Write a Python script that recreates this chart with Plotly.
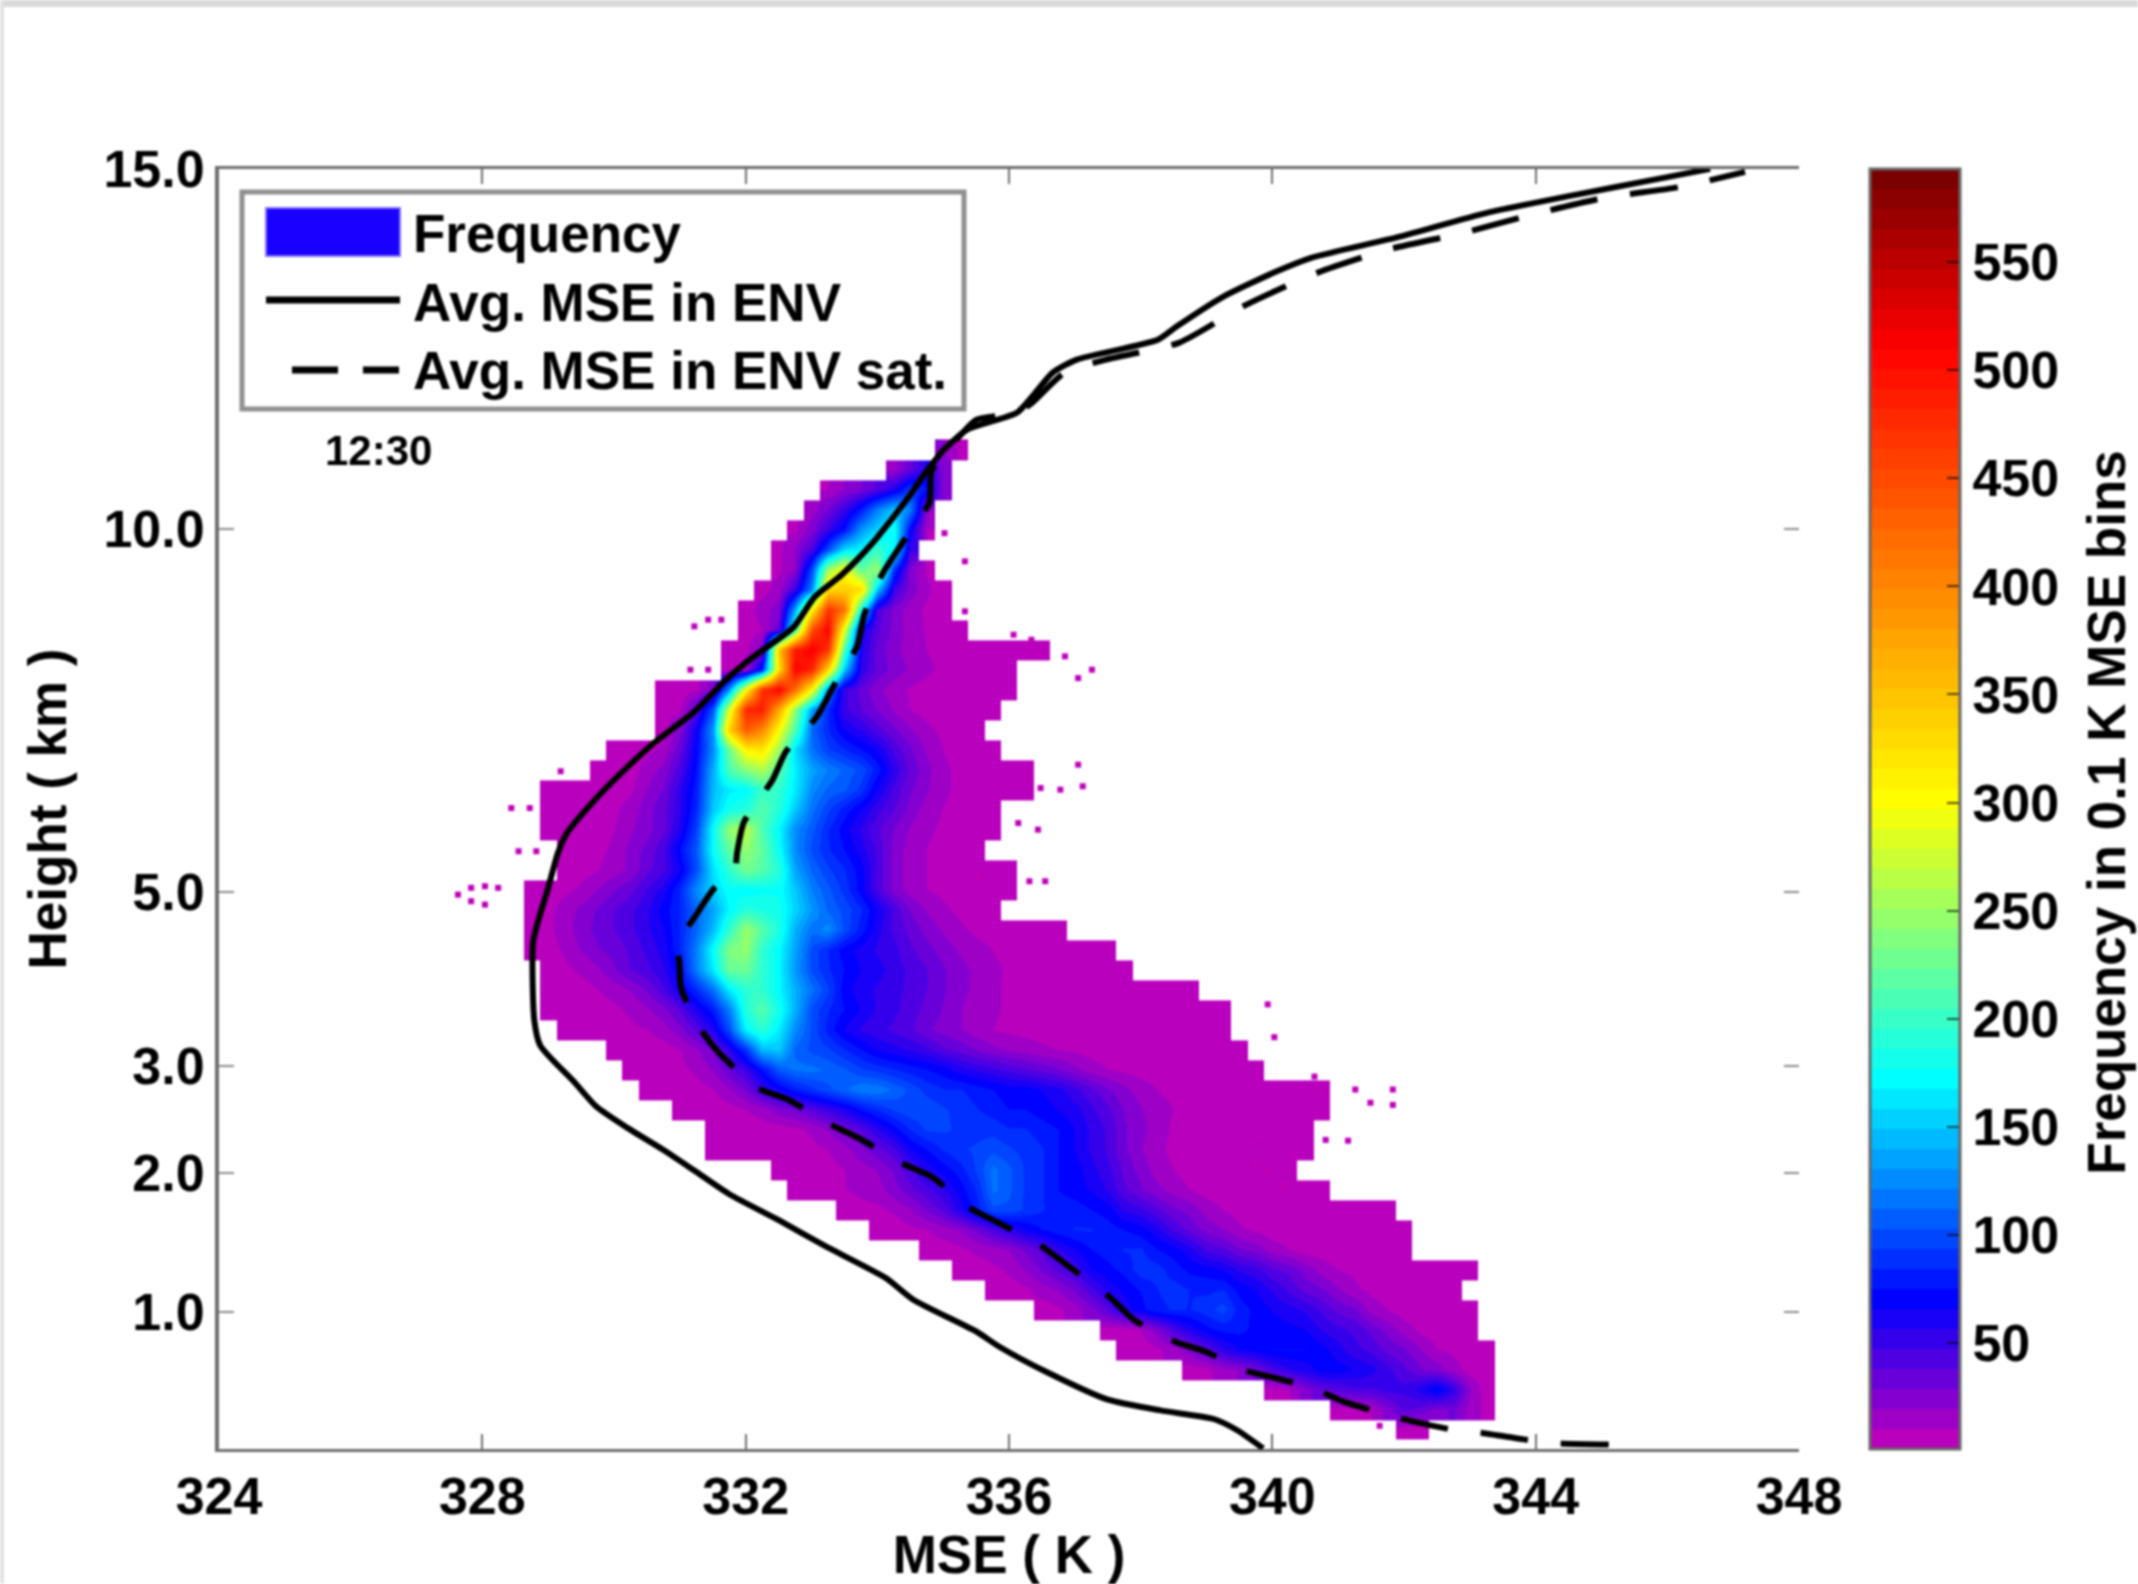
import plotly.graph_objects as go

# ---------- data ----------
X_TICKS = [324, 328, 332, 336, 340, 344, 348]
HEIGHT_LABELS = ["1.0", "2.0", "3.0", "5.0", "10.0", "15.0"]
HEIGHT_LEVELS = [6.875, 13.825, 19.175, 27.875, 46.025, 64.025]   # the height axis is stretched: model level of each label
LEVEL_MAX = 64.025
CB_TICKS = [50, 100, 150, 200, 250, 300, 350, 400, 450, 500, 550]
Z_MIN, Z_MAX = 1, 593

MSE_ENV = [339.86,339.46,339.11,338.30,337.49,336.54,335.86,335.50,334.54,334.13,333.19,332.51,331.76,331.22,330.74,330.21,329.73,329.39,328.88,328.79,328.77,328.88,328.98,329.15,329.29,329.67,330.21,330.61,331.22,331.70,332.10,332.72,333.05,333.46,333.93,334.48,334.71,335.01,335.36,336.12,336.35,336.66,337.02,338.26,338.54,339.25,340.05,340.59,341.92,343.26,344.60,345.94,346.65]
LEV_ENV = [0.03,0.95,1.50,1.93,2.48,3.90,5.10,5.88,7.48,8.55,10.18,11.43,12.73,13.93,14.98,16.05,17.13,18.38,20.18,21.43,25.33,26.78,27.83,29.83,30.83,32.33,34.13,35.33,36.88,38.48,39.58,41.08,42.63,43.73,45.33,47.63,48.73,49.98,50.98,51.83,52.63,53.83,54.48,55.48,56.13,57.63,58.88,59.58,60.63,61.83,62.73,63.58,64.03]

MSE_SAT = [345.11,344.26,343.82,343.19,342.76,342.13,341.73,341.07,340.63,340.01,339.61,338.98,338.55,337.91,337.52,336.86,336.46,335.83,335.42,334.82,334.38,333.73,333.29,332.64,332.20,331.60,331.32,331.02,330.99,330.95,331.22,331.53,331.83,331.87,331.97,332.41,332.61,333.08,333.33,333.69,333.80,334.07,334.38,334.79,334.82,335.02,335.24,335.50,336.12,336.35,336.84,337.46,338.58,339.60,340.68,341.74,342.90,343.93,345.04,346.20,347.18]
LEV_SAT = [0.23,0.30,0.48,0.80,0.95,1.38,1.73,2.38,3.03,3.58,3.90,4.88,5.33,6.43,7.63,9.25,10.23,11.33,12.03,13.63,14.28,15.53,16.23,17.48,18.03,19.80,20.98,23.03,24.43,25.18,26.58,28.08,28.88,29.83,31.33,33.48,34.88,36.63,38.13,40.13,41.73,43.73,45.33,47.33,48.88,49.83,50.63,51.48,51.83,52.33,53.83,54.48,55.33,57.23,58.83,59.98,60.83,61.73,62.58,63.13,63.88]

SPECK_MSE = [327.63,327.83,328.04,328.24,327.83,328.04,328.44,328.72,328.95,328.55,328.82,329.19,331.16,331.43,331.22,331.43,331.63,337.26,337.05,336.85,336.31,336.48,337.12,336.78,336.55,336.31,335.53,336.44,336.14,335.33,335.02,335.33,334.85,336.07,336.34,337.05,341.83,341.83,341.49,341.26,341.15,339.93,340.03,340.64,340.75,340.81,340.34,339.73,339.93,339.63,339.83,340.2,340.14,343.32,341.63]
SPECK_LEV = [27.73,28.07,28.15,28.07,27.4,27.23,32.06,32.06,31.73,29.9,29.9,33.9,38.98,38.98,41.15,41.48,41.48,38.98,38.56,39.65,39.98,33.06,33.15,32.98,28.4,28.4,28.73,30.98,31.31,44.4,45.81,41.9,40.81,40.73,40.48,34.23,17.98,17.21,17.32,17.98,15.42,22.24,20.6,18.63,17.87,15.46,14.59,14.27,13.94,15.36,15.68,13.28,12.96,4.88,1.16]

BIN_MSE = [324 + 0.25 * j for j in range(97)]
# first occupied bin of each level (level 1 upward) and the frequencies from there on
ROW_START = [72,68,64,59,55,54,50,47,45,43,40,38,35,34,30,30,28,26,25,24,21,20,20,20,19,19,19,19,21,21,20,20,20,23,24,27,27,27,31,31,32,32,33,34,34,35,36,37,41,44]
ROW_FREQ = [
[5,5],
[5,5,10,25,40,35,25,30,15,8],
[5,10,25,35,40,45,45,50,50,60,75,55,20,5],
[5,8,15,20,30,45,55,60,70,70,65,60,50,40,30,25,15,5,5],
[5,5,8,15,25,40,55,65,70,75,75,75,70,60,50,45,35,30,20,10,8,5,5],
[5,5,10,25,45,60,72,78,78,72,72,68,66,55,50,45,35,25,15,8,5,5,5],
[5,8,15,25,40,60,72,82,85,84,90,98,80,72,65,60,55,45,35,30,15,10,5,5,5,5,5],
[5,5,8,15,20,30,45,60,68,76,84,88,84,82,84,72,65,55,45,35,30,20,12,8,5,5,5,5,5],
[5,5,8,12,20,30,40,50,65,72,78,90,88,80,72,70,65,55,50,40,35,25,15,10,8,5,5,5,5,5,5,5],
[5,5,8,12,15,20,30,40,55,65,75,80,85,85,75,70,60,45,40,30,25,15,10,5,5,5,5,5,5,5],
[5,5,8,10,15,20,30,45,55,65,75,80,85,85,80,75,70,60,45,35,25,20,12,8,5,5,5,5,5,5,5,5,5],
[5,8,8,12,18,30,40,60,80,100,100,92,85,80,80,75,70,55,50,40,30,25,15,10,6,5,5,5,5,5,5,5,5,5],
[5,5,8,10,12,15,25,35,45,55,70,85,115,105,92,85,75,70,65,55,40,30,22,15,10,6,5,5,5,5,5,5,5],
[5,5,6,8,10,15,20,30,45,60,70,80,95,115,105,92,85,75,70,60,50,35,25,15,10,6,5,5,5,5,5,5],
[5,5,5,5,5,6,8,10,15,25,35,45,65,75,85,92,95,100,95,90,85,75,65,55,45,30,20,12,8,5,5,5,5,5,5,5,5],
[5,5,5,5,5,8,12,20,30,40,55,70,85,95,95,92,90,90,85,85,80,75,65,55,45,30,22,15,8,5,5,5,5,5,5,5,5],
[5,5,5,6,10,15,25,30,40,50,60,75,85,95,100,100,95,90,85,80,75,75,70,65,60,50,40,28,20,15,10,6,5,5,5,5,5,5,5,5],
[5,5,5,6,10,18,30,50,65,80,90,100,110,120,120,110,100,90,85,85,80,75,70,70,65,60,50,40,30,22,15,10,7,5,5,5,5,5,5,5,5,5],
[5,5,6,8,12,20,35,50,75,105,115,115,110,105,95,90,85,80,75,70,60,55,50,45,40,35,30,22,15,10,8,6,5,5,5,5,5,5,5],
[5,5,5,6,10,18,30,55,90,145,150,110,100,95,85,75,65,60,55,50,40,35,28,22,18,15,12,10,8,6,5,5,5,5,5,5,5,5,5],
[5,5,5,6,8,10,15,25,40,60,100,170,195,165,125,100,80,65,55,50,45,40,30,25,20,14,10,8,7,6,5,5,5,5,5,5,5,5,5,5,5],
[5,5,5,6,8,12,18,25,40,60,80,120,190,215,180,140,100,85,75,65,55,50,42,35,28,20,15,12,8,6,5,5,5,5,5,5,5,5,5,5,5,5],
[5,6,6,10,14,20,30,45,65,85,115,165,195,195,170,140,115,95,70,60,55,50,45,38,30,22,17,12,8,6,5,5,5,5,5,5,5,5,5,5],
[5,8,12,18,28,38,45,55,75,120,165,225,225,195,170,130,100,85,75,65,60,52,45,38,30,22,18,12,9,7,5,5,5,5,5,5],
[5,6,12,20,28,32,40,50,60,85,120,175,235,245,195,170,135,100,85,70,62,55,50,40,32,25,18,14,10,7,6,5,5,5,5,5],
[5,8,15,25,32,38,45,55,65,85,110,145,195,250,215,185,140,115,125,100,80,60,45,35,25,18,12,8,6,5,5,5,5],
[5,8,15,22,30,38,45,55,70,85,110,135,170,190,185,180,155,130,110,100,85,65,45,28,18,12,8,6,5],
[5,5,8,12,20,28,35,48,60,85,125,155,175,170,175,175,150,120,105,90,70,45,25,15,10,8,6,5,5,5],
[5,6,10,15,22,35,45,65,100,160,195,230,215,190,135,110,95,85,70,45,25,15,10,7,6,5,5,5],
[5,6,8,12,22,32,45,75,105,175,220,245,220,175,125,100,85,75,60,45,25,15,10,7,5,5],
[5,5,5,7,10,18,25,35,60,95,175,245,265,210,170,125,105,85,70,55,40,28,18,12,8,6,5,5],
[5,5,5,6,8,15,25,35,55,85,150,180,190,215,190,150,115,95,80,65,50,38,25,15,10,7,5,5],
[5,5,5,5,5,8,20,30,55,80,145,165,170,200,195,165,125,110,105,90,65,45,30,20,12,8,5,5,5,5],
[5,5,5,15,22,45,75,140,210,240,260,215,165,135,120,110,100,80,55,35,22,12,8,6,5,5,5],
[5,5,8,12,35,70,125,225,310,320,250,160,115,95,85,75,65,45,30,18,10,7,5,5],
[6,25,65,130,340,440,400,300,210,110,85,65,55,42,30,20,12,8,5,5],
[5,8,40,105,280,480,490,370,240,130,85,50,38,28,18,10,7,5,5,5,5],
[5,5,8,25,130,300,470,510,420,300,120,50,35,22,14,9,6,5,5,5,5,5],
[6,15,80,330,510,480,330,150,55,35,25,18,12,8,6,5,5,5],
[5,8,25,350,490,515,470,210,60,35,22,15,10,7,5,5,5,5,5,5],
[5,10,35,200,450,510,290,65,40,25,15,9,5,5],
[5,15,25,135,310,470,420,180,45,25,15,8,5],
[6,15,50,125,330,340,330,150,50,25,12,5],
[8,20,100,250,300,220,250,90,25,8],
[8,20,45,100,160,170,200,170,50],
[8,25,50,75,130,155,180,70,10],
[15,30,50,80,120,150,120,20],
[10,20,28,40,60,95,75,25],
[15,35,60,25],
[20,8],
]

FONT = "Liberation Sans"
W, H = 2138, 1584
L, R, T, B = 219, 1799, 169, 1449.5

def px(x):
    return (x - L) / (R - L)

def py(y):
    return (B - y) / (B - T)

# ---------- colours (64 flat bands, as in the colour bar) ----------
STOPS = [(1, (198, 0, 184)), (70, (0, 0, 255)), (172, (0, 255, 255)), (300, (255, 255, 0)), (511, (255, 0, 0)), (593, (115, 0, 0))]

def band_color(v):
    for (v0, c0), (v1, c1) in zip(STOPS, STOPS[1:]):
        if v <= v1:
            f = (v - v0) / (v1 - v0)
            return "rgb(%d,%d,%d)" % tuple(round(a + (b - a) * f) for a, b in zip(c0, c1))
    return "rgb(115,0,0)"

colorscale = []
N = 64
for i in range(N):
    c = band_color(Z_MIN + (Z_MAX - Z_MIN) * (i + 0.5) / N)
    colorscale += [[i / N, c], [(i + 1) / N, c]]

levels = list(range(1, len(ROW_FREQ) + 1))
z = []
for start, vals in zip(ROW_START, ROW_FREQ):
    row = [None] * len(BIN_MSE)
    row[start:start + len(vals)] = vals
    z.append(row[:len(BIN_MSE)])

tick = dict(family=FONT, size=52, color="#000000", weight=700)
big = dict(family=FONT, size=53, color="#000000", weight=700)
fig = go.Figure()
fig.add_trace(go.Heatmap(
    x=BIN_MSE, y=levels, z=z, zmin=Z_MIN, zmax=Z_MAX, zsmooth="best", colorscale=colorscale,
    hoverongaps=False, name="Frequency",
    colorbar=dict(
        x=px(1870), xanchor="left", xpad=0, y=0, yanchor="bottom", ypad=0, len=1, lenmode="fraction",
        thickness=90, thicknessmode="pixels", outlinecolor="#666666", outlinewidth=3,
        tickmode="array", tickvals=CB_TICKS, ticks="inside", ticklen=14, tickwidth=2,
        tickcolor="rgba(0,0,0,0.65)", tickfont=tick,
    ),
))
fig.add_trace(go.Scatter(x=SPECK_MSE, y=SPECK_LEV, mode="markers", name="Frequency (sparse bins)",
                         marker=dict(symbol="square", size=6, color="rgb(190,0,185)"), showlegend=False))
fig.add_trace(go.Scatter(x=MSE_ENV, y=LEV_ENV, mode="lines", name="Avg. MSE in ENV",
                         line=dict(color="#000000", width=6, shape="spline", smoothing=0.6)))
fig.add_trace(go.Scatter(x=MSE_SAT, y=LEV_SAT, mode="lines", name="Avg. MSE in ENV sat.",
                         line=dict(color="#000000", width=6, dash="48px,33px", shape="spline", smoothing=0.6)))

shapes = [
    dict(type="rect", xref="paper", yref="paper", x0=px(0), x1=px(W), y0=py(0), y1=py(7), fillcolor="#d9d9d9", line_width=0),
    dict(type="rect", xref="paper", yref="paper", x0=px(0), x1=px(4), y0=py(0), y1=py(H), fillcolor="#e2e2e2", line_width=0),
    # legend box and samples
    dict(type="rect", xref="paper", yref="paper", x0=px(242), x1=px(964), y0=py(192), y1=py(409), fillcolor="#ffffff", line=dict(color="#8f8f8f", width=5)),
    dict(type="rect", xref="paper", yref="paper", x0=px(266), x1=px(400), y0=py(208), y1=py(256), fillcolor="#1a00ff", line=dict(color="#7f70ff", width=2)),
    dict(type="line", xref="paper", yref="paper", x0=px(266), x1=px(400), y0=py(300), y1=py(300), line=dict(color="#000000", width=7)),
    dict(type="line", xref="paper", yref="paper", x0=px(292), x1=px(338), y0=py(370), y1=py(370), line=dict(color="#000000", width=7)),
    dict(type="line", xref="paper", yref="paper", x0=px(363), x1=px(399), y0=py(370), y1=py(370), line=dict(color="#000000", width=7)),
]
for v in CB_TICKS:
    f = (v - Z_MIN) / (Z_MAX - Z_MIN)
    shapes.append(dict(type="line", xref="paper", yref="paper", x0=px(1870), x1=px(1884), y0=f, y1=f,
                       line=dict(color="rgba(0,0,0,0.65)", width=2)))

annotations = []
for text, y in [("Frequency", 234), ("Avg. MSE in ENV", 303), ("Avg. MSE in ENV sat.", 371)]:
    annotations.append(dict(text=text, xref="paper", yref="paper", x=px(411), y=py(y), xanchor="left", yanchor="middle",
                            showarrow=False, font=big))
annotations.append(dict(text="12:30", xref="paper", yref="paper", x=px(378), y=py(451), xanchor="center", yanchor="middle",
                        showarrow=False, font=dict(family=FONT, size=42, color="#000000", weight=700)))
annotations.append(dict(text="Frequency in 0.1 K MSE bins", xref="paper", yref="paper", x=px(2107), y=py(813), xanchor="center",
                        yanchor="middle", textangle=-90, showarrow=False, font=big))

fig.update_layout(
    width=W, height=H, autosize=False, paper_bgcolor="#ffffff", plot_bgcolor="#ffffff", showlegend=False,
    margin=dict(l=L, r=W - R, t=T, b=H - B, pad=0),
    shapes=shapes, annotations=annotations,
    xaxis=dict(range=[324, 348], tickmode="array", tickvals=X_TICKS, ticktext=[str(v) for v in X_TICKS],
               showgrid=False, zeroline=False, showline=True, linecolor="#6e6e6e", linewidth=3, mirror="ticks",
               ticks="inside", ticklen=15, tickwidth=2, tickcolor="#6e6e6e", tickfont=tick,
               title=dict(text="MSE ( K )", font=big, standoff=10)),
    yaxis=dict(range=[0, LEVEL_MAX], tickmode="array", tickvals=HEIGHT_LEVELS, ticktext=HEIGHT_LABELS,
               showgrid=False, zeroline=False, showline=True, linecolor="#6e6e6e", linewidth=4,
               ticks="inside", ticklen=15, tickwidth=2, tickcolor="#8a8a8a", tickfont=tick,
               title=dict(text="Height ( km )", font=big, standoff=21)),
    yaxis2=dict(range=[0, LEVEL_MAX], overlaying="y", side="right", tickmode="array", tickvals=HEIGHT_LEVELS,
                ticktext=[""] * len(HEIGHT_LEVELS), showgrid=False, zeroline=False, showline=False,
                ticks="inside", ticklen=15, tickwidth=2, tickcolor="#8a8a8a"),
)
fig.add_trace(go.Scatter(x=[None], y=[None], yaxis="y2", showlegend=False, hoverinfo="skip"))

fig.write_html("out.html", config={"displayModeBar": False},
               post_script="document.body.style.margin='0';document.querySelectorAll('.plotly-graph-div').forEach(function(d){d.style.filter='blur(0.8px)';});")
